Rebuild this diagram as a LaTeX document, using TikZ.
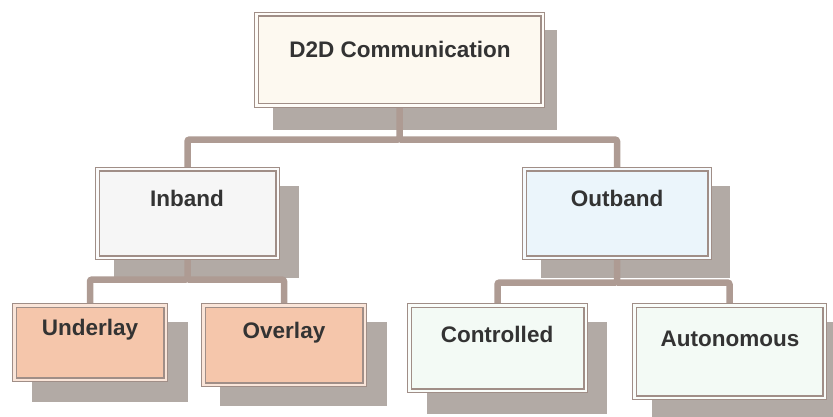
\documentclass[tikz,border=0pt]{standalone}
\usepackage{fontspec}
\setmainfont{Liberation Sans}
\usetikzlibrary{backgrounds}

\definecolor{shadowgrey}{HTML}{B2AAA5}
\definecolor{linkbrown}{HTML}{AE9B93}
\definecolor{rimgrey}{HTML}{A08E87}
\definecolor{textdark}{HTML}{333333}
\definecolor{cream}{HTML}{FDF9F0}
\definecolor{paleGrey}{HTML}{F6F6F6}
\definecolor{paleBlue}{HTML}{EBF5FB}
\definecolor{salmon}{HTML}{F5C6AB}
\definecolor{paleGreen}{HTML}{F3FAF5}

\tikzset{
  cbox/.style={rectangle, draw=rimgrey, line width=1.3pt, double=#1!45!white,
    double distance=2.2pt, fill=#1, inner sep=0pt, outer sep=0pt,
    anchor=north west},
  shade/.style={fill=shadowgrey},
  conn/.style={draw=linkbrown, line width=6.5pt, rounded corners=2pt},
  lbl/.style={font=\bfseries\fontsize{22.5}{27}\selectfont, text=textdark,
    anchor=base, inner sep=0pt}
}

\begin{document}
\begin{tikzpicture}[x=1pt,y=-1pt]
\useasboundingbox (0,0) rectangle (833,417);

% boxes (size = outer edge minus the double rim)
\node[cbox=cream,     minimum width=286.2pt, minimum height=91.2pt] (top)      at (256.4,14.4)  {};
\node[cbox=paleGrey,  minimum width=180.2pt, minimum height=88.2pt] (inband)   at (97.4,169.4)  {};
\node[cbox=paleBlue,  minimum width=185.2pt, minimum height=88.2pt] (outband)  at (524.4,169.4) {};
\node[cbox=salmon,    minimum width=151.2pt, minimum height=74.2pt] (underlay) at (14.4,305.4)  {};
\node[cbox=salmon,    minimum width=161.2pt, minimum height=79.2pt] (overlay)  at (203.4,305.4) {};
\node[cbox=paleGreen, minimum width=176.2pt, minimum height=85.2pt] (controlled) at (409.4,305.4) {};
\node[cbox=paleGreen, minimum width=190.2pt, minimum height=92.2pt] (autonomous) at (634.4,305.4) {};

% labels
\node[lbl] (tTop) at (400,58)  {D2D Communication};
\node[lbl] (tIn)  at (187,207) {Inband};
\node[lbl] (tOut) at (617,206) {Outband};
\node[lbl] (tUnd) at (90,335)  {Underlay};
\node[lbl] (tOve) at (284,338) {Overlay};
\node[lbl] (tCon) at (497,342) {Controlled};
\node[lbl] (tAut) at (730,346) {Autonomous};

\begin{scope}[on background layer]
  % drop shadows
  \fill[shade] (273,30)  rectangle (557,130);
  \fill[shade] (114,186) rectangle (299,278);
  \fill[shade] (541,186) rectangle (730,278);
  \fill[shade] (32,322)  rectangle (188,402);
  \fill[shade] (220,322) rectangle (387,406);
  \fill[shade] (427,322) rectangle (607,414);
  \fill[shade] (652,322) rectangle (850,430);

  % tree connectors
  \path (top.south) ++(0,34) coordinate (jTop);
  \path (inband.south) ++(0,22) coordinate (jIn);
  \path (outband.south) ++(0,25) coordinate (jOut);
  \draw[conn] (top.south) -- (jTop) -| (inband.north);
  \draw[conn] (jTop) -| (outband.north);
  \draw[conn] (inband.south) -- (jIn) -| (underlay.north);
  \draw[conn] (jIn) -| (overlay.north);
  \draw[conn] (outband.south) -- (jOut) -| (controlled.north);
  \draw[conn] (jOut) -| (autonomous.north);
\end{scope}
\end{tikzpicture}
\end{document}
